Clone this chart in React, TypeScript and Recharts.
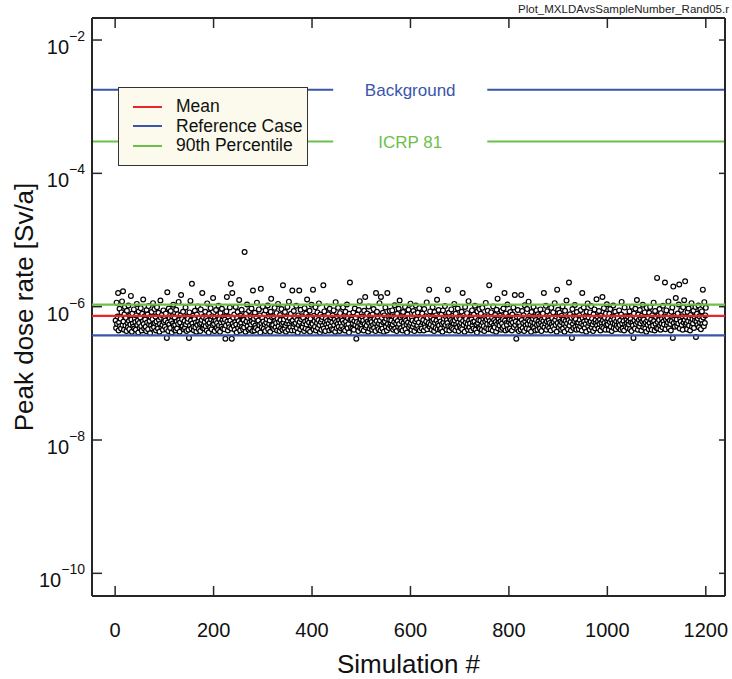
import { ScatterChart, Scatter, XAxis, YAxis, ReferenceLine, Legend } from 'recharts'

const FONT = '"Liberation Sans", Arial, Helvetica, sans-serif'
const FRAME = '#262626'
const RED = '#e8262a'
const BLUE = '#3a55aa'
const GREEN = '#6cc04a'

// plot frame edges (px)
const PLOT_TOP = 18
const PLOT_BOTTOM = 596
const PLOT_LEFT = 92
const PLOT_RIGHT = 725

const xDomain = [-47, 1239]
const xTicks = [0, 200, 400, 600, 800, 1000, 1200]
const yDomain = [4.57e-11, 2.14e-2]
const yTicks = [1e-10, 1e-8, 1e-6, 1e-4, 1e-2]

// peak dose rate of each simulation (sim # = index + 1), in units of 1e-8 Sv/a
const peakDoseE8 = [
  62, 48, 115, 55, 71, 160, 44, 58, 93, 51, 66, 47, 82, 120, 53, 170, 60, 45, 77, 99,
  52, 68, 43, 87, 57, 49, 104, 61, 46, 73, 54, 145, 64, 42, 79, 56, 50, 91, 47, 66,
  59, 45, 74, 110, 53, 62, 41, 85, 57, 48, 69, 95, 51, 44, 78, 60, 128, 55, 47, 72,
  64, 50, 43, 89, 58, 76, 46, 102, 54, 61, 40, 70, 52, 83, 47, 65, 113, 56, 49, 92,
  57, 71, 44, 60, 98, 51, 47, 81, 63, 42, 55, 124, 68, 49, 75, 53, 45, 88, 59, 66,
  50, 62, 79, 46, 34, 165, 58, 43, 94, 54, 67, 48, 86, 61, 41, 72, 56, 107, 52, 45,
  69, 53, 44, 90, 60, 47, 77, 55, 118, 63, 42, 58, 74, 150, 49, 65, 51, 84, 46, 57,
  61, 48, 97, 54, 43, 71, 59, 66, 45, 34, 82, 52, 122, 62, 47, 220, 56, 73, 50, 44,
  65, 87, 49, 58, 42, 76, 53, 101, 60, 46, 68, 55, 43, 91, 57, 63, 160, 48, 70, 52,
  47, 59, 84, 51, 66, 44, 112, 62, 54, 41, 78, 57, 49, 95, 64, 46, 72, 53, 135, 60,
  55, 43, 69, 61, 89, 48, 57, 74, 45, 103, 52, 65, 42, 80, 58, 50, 93, 63, 47, 71,
  58, 46, 64, 33, 52, 85, 140, 60, 44, 71, 55, 49, 97, 62, 220, 47, 33, 160, 56, 68,
  51, 76, 45, 59, 99, 54, 41, 67, 83, 48, 61, 126, 53, 44, 73, 57, 90, 50, 64, 46,
  63, 49, 660, 56, 42, 78, 60, 108, 51, 68, 45, 86, 58, 47, 72, 54, 94, 61, 43, 175,
  57, 66, 44, 81, 52, 48, 70, 115, 59, 45, 62, 91, 53, 74, 41, 185, 56, 49, 67, 100,
  60, 47, 77, 54, 43, 88, 58, 65, 50, 104, 46, 71, 55, 62, 42, 84, 131, 52, 69, 48,
  53, 72, 46, 96, 61, 49, 57, 80, 44, 66, 110, 51, 59, 43, 75, 63, 48, 92, 55, 45,
  210, 58, 64, 47, 83, 52, 42, 70, 56, 99, 61, 45, 119, 54, 67, 49, 78, 60, 44, 175,
  62, 50, 86, 55, 44, 69, 57, 103, 48, 63, 41, 74, 53, 175, 59, 46, 90, 65, 51, 72,
  49, 68, 56, 43, 95, 60, 47, 79, 54, 128, 62, 45, 71, 58, 87, 42, 66, 52, 107, 57,
  55, 180, 46, 73, 61, 50, 98, 44, 67, 57, 82, 48, 63, 112, 53, 41, 76, 59, 45, 64,
  70, 52, 210, 47, 85, 58, 43, 66, 54, 101, 61, 49, 77, 56, 44, 93, 62, 51, 69, 46,
  58, 74, 45, 88, 53, 64, 42, 117, 59, 48, 71, 55, 96, 50, 63, 43, 80, 57, 47, 66,
  51, 62, 97, 46, 57, 73, 44, 84, 60, 52, 108, 48, 67, 55, 41, 78, 230, 63, 49, 70,
  64, 47, 56, 82, 45, 61, 94, 53, 68, 33, 59, 76, 50, 43, 89, 57, 121, 48, 65, 54,
  46, 71, 58, 62, 44, 87, 55, 140, 49, 66, 52, 79, 60, 42, 101, 57, 47, 73, 63, 51,
  59, 45, 76, 53, 92, 48, 65, 57, 43, 160, 61, 84, 50, 70, 46, 56, 113, 62, 44, 140,
  53, 68, 47, 81, 58, 42, 74, 60, 97, 50, 66, 44, 160, 55, 72, 48, 63, 86, 52, 57,
  62, 49, 88, 54, 45, 71, 59, 105, 47, 66, 56, 43, 78, 61, 50, 93, 55, 124, 46, 69,
  48, 60, 73, 44, 83, 57, 51, 65, 99, 46, 62, 54, 41, 76, 58, 90, 49, 67, 53, 111,
  57, 45, 69, 62, 50, 86, 55, 43, 77, 60, 104, 48, 64, 52, 81, 46, 58, 95, 44, 71,
  66, 52, 47, 79, 58, 63, 44, 92, 55, 49, 72, 60, 116, 46, 68, 53, 57, 180, 50, 85,
  54, 70, 45, 61, 98, 51, 64, 43, 83, 57, 48, 74, 62, 127, 46, 56, 89, 52, 67, 45,
  60, 47, 76, 55, 42, 88, 58, 66, 49, 102, 53, 71, 45, 63, 57, 180, 51, 81, 44, 68,
  50, 63, 91, 48, 59, 73, 46, 56, 110, 62, 44, 78, 54, 67, 49, 94, 58, 43, 70, 52,
  65, 48, 57, 84, 46, 160, 61, 53, 74, 42, 99, 58, 66, 50, 80, 55, 45, 121, 62, 49,
  56, 71, 44, 64, 88, 52, 59, 47, 76, 60, 103, 45, 68, 54, 41, 85, 57, 63, 49, 92,
  47, 62, 78, 53, 45, 96, 58, 66, 51, 43, 72, 60, 114, 48, 64, 55, 87, 46, 69, 210,
  61, 54, 46, 82, 57, 68, 44, 101, 52, 63, 49, 75, 59, 42, 90, 55, 132, 47, 66, 58,
  52, 73, 60, 45, 87, 56, 48, 65, 94, 51, 160, 62, 44, 79, 57, 53, 108, 46, 70, 59,
  64, 47, 83, 55, 62, 44, 76, 58, 97, 49, 66, 150, 53, 60, 33, 71, 46, 89, 56, 43,
  58, 69, 51, 45, 150, 63, 86, 48, 57, 74, 43, 105, 60, 52, 67, 47, 92, 55, 64, 119,
  46, 61, 74, 54, 42, 83, 59, 50, 66, 99, 48, 57, 71, 44, 63, 88, 53, 45, 77, 60,
  55, 72, 47, 91, 58, 43, 64, 52, 79, 61, 160, 49, 68, 56, 103, 45, 60, 85, 51, 66,
  62, 48, 57, 75, 44, 96, 54, 67, 50, 82, 59, 46, 113, 63, 53, 71, 42, 180, 57, 90,
  49, 66, 81, 53, 60, 45, 73, 58, 101, 47, 64, 55, 42, 87, 61, 51, 124, 56, 70, 46,
  63, 230, 52, 77, 59, 44, 68, 34, 92, 55, 48, 71, 61, 106, 50, 65, 45, 83, 57, 53,
  58, 46, 74, 63, 51, 89, 56, 44, 160, 67, 53, 97, 60, 48, 72, 55, 42, 84, 62, 112,
  51, 69, 57, 45, 82, 60, 102, 49, 66, 54, 43, 77, 59, 91, 47, 63, 56, 129, 52, 71,
  60, 47, 86, 55, 64, 44, 73, 58, 50, 140, 62, 48, 95, 57, 68, 45, 79, 53, 109, 61,
  54, 66, 45, 78, 59, 92, 50, 63, 43, 71, 57, 104, 48, 65, 55, 84, 46, 60, 52, 74,
  67, 49, 58, 88, 53, 62, 45, 76, 118, 56, 47, 69, 61, 44, 97, 54, 72, 50, 63, 57,
  48, 71, 60, 54, 85, 46, 65, 58, 43, 100, 57, 52, 34, 79, 62, 47, 93, 55, 68, 126,
  59, 45, 76, 63, 51, 89, 56, 67, 44, 73, 60, 107, 49, 64, 55, 82, 47, 58, 42, 96,
  62, 53, 68, 46, 81, 57, 99, 50, 64, 45, 74, 58, 52, 115, 61, 44, 86, 55, 70, 48,
  270, 59, 47, 74, 63, 92, 52, 45, 80, 56, 66, 49, 103, 60, 54, 71, 230, 46, 64, 88,
  53, 69, 58, 120, 48, 76, 62, 55, 44, 84, 61, 97, 34, 200, 57, 67, 50, 73, 135, 59,
  64, 51, 79, 56, 108, 215, 47, 66, 60, 89, 53, 72, 45, 98, 58, 125, 63, 240, 54, 70,
  57, 46, 83, 61, 94, 52, 68, 44, 75, 59, 113, 50, 65, 56, 87, 48, 71, 62, 99, 35,
  60, 78, 53, 66, 104, 49, 72, 58, 91, 46, 63, 85, 55, 180, 69, 51, 117, 57, 74, 96,
]

// statistics / limits in Sv/a
const meanDose = 7.3e-7
const referenceDose = 3.7e-7
const percentile90Dose = 1.07e-6
const backgroundDose = 1.8e-3
const icrp81Dose = 3.0e-4

// gap in the limit lines where their labels sit (simulation # units)
const labelGap = [443, 756]

const legendItems = [
  { name: 'Mean', color: RED },
  { name: 'Reference Case', color: BLUE },
  { name: '90th Percentile', color: GREEN },
]

const points = peakDoseE8.map((v, i) => ({ sim: i + 1, dose: v * 1e-8 }))
const flatLine = (dose: number) => [
  { sim: xDomain[0], dose },
  { sim: xDomain[1], dose },
]

// x comes from the axis scale; the frame edges are fixed
function XTick({ x, payload }: any) {
  return (
    <g>
      <line x1={x} x2={x} y1={PLOT_BOTTOM} y2={PLOT_BOTTOM - 10} stroke={FRAME} strokeWidth={1.5} />
      <line x1={x} x2={x} y1={PLOT_TOP} y2={PLOT_TOP + 10} stroke={FRAME} strokeWidth={1.5} />
      <text x={x} y={PLOT_BOTTOM + 41} textAnchor="middle" fontSize={20} fontFamily={FONT} fill="#111">
        {payload.value}
      </text>
    </g>
  )
}

function YTick({ y, payload }: any) {
  const exp = Math.round(Math.log10(payload.value))
  return (
    <g>
      <line x1={PLOT_LEFT} x2={PLOT_LEFT + 10} y1={y} y2={y} stroke={FRAME} strokeWidth={1.5} />
      <line x1={PLOT_RIGHT} x2={PLOT_RIGHT - 6} y1={y} y2={y} stroke={FRAME} strokeWidth={1.5} />
      <text x={PLOT_LEFT - 7} y={y + 14} textAnchor="end" fontFamily={FONT} fill="#111">
        <tspan fontSize={20}>10</tspan>
        <tspan fontSize={14} dy={-13}>{'\u2212' + Math.abs(exp)}</tspan>
      </text>
    </g>
  )
}

function Dot({ cx, cy }: any) {
  return <circle cx={cx} cy={cy} r={2.4} fill="#fff" stroke="#000" strokeWidth={1.2} />
}

function NoDot() {
  return <g />
}

function LegendBox() {
  return (
    <div
      style={{
        width: 190,
        height: 79,
        background: '#fbfaec',
        border: '1.5px solid #333',
        boxSizing: 'border-box',
        paddingTop: 9,
        fontFamily: FONT,
        fontSize: 17.5,
        lineHeight: '19.5px',
        color: '#111',
      }}
    >
      {legendItems.map((it) => (
        <div key={it.name} style={{ display: 'flex', alignItems: 'center', height: 19.5 }}>
          <div style={{ width: 29, height: 2, background: it.color, marginLeft: 14, marginRight: 14 }} />
          <span>{it.name}</span>
        </div>
      ))}
    </div>
  )
}

export default function App() {
  return (
    <div style={{ position: 'absolute', left: 0, top: 0, width: 732, height: 679, background: '#fff', fontFamily: FONT }}>
      <ScatterChart width={732} height={679} margin={{ top: PLOT_TOP - 1, right: 732 - PLOT_RIGHT - 1, bottom: 0, left: 0 }}>
        <XAxis
          dataKey="sim"
          type="number"
          domain={xDomain}
          ticks={xTicks}
          interval={0}
          allowDataOverflow
          height={679 - PLOT_BOTTOM}
          tickLine={false}
          tick={<XTick />}
          axisLine={{ stroke: FRAME, strokeWidth: 2 }}
          label={{
            content: ({ viewBox }: any) => (
              <text x={viewBox.x + viewBox.width / 2} y={673} textAnchor="middle" fontSize={26} fontFamily={FONT} fill="#111">
                Simulation #
              </text>
            ),
          }}
        />
        <XAxis
          xAxisId="top"
          orientation="top"
          type="number"
          domain={xDomain}
          allowDataOverflow
          height={1}
          tick={false}
          tickLine={false}
          axisLine={{ stroke: FRAME, strokeWidth: 2 }}
          label={{
            content: () => (
              <text x={729} y={13} textAnchor="end" fontSize={11.5} fontFamily={FONT} fill="#222" textLength={211} lengthAdjust="spacingAndGlyphs">
                Plot_MXLDAvsSampleNumber_Rand05.r
              </text>
            ),
          }}
        />
        <YAxis
          dataKey="dose"
          type="number"
          scale="log"
          domain={yDomain}
          ticks={yTicks}
          interval={0}
          allowDataOverflow
          width={PLOT_LEFT}
          tickLine={false}
          tick={<YTick />}
          axisLine={{ stroke: FRAME, strokeWidth: 2 }}
          label={{
            content: ({ viewBox }: any) => {
              const cy = viewBox.y + viewBox.height / 2
              return (
                <text x={33} y={cy} transform={`rotate(-90 33 ${cy})`} textAnchor="middle" fontSize={26} fontFamily={FONT} fill="#111">
                  Peak dose rate [Sv/a]
                </text>
              )
            },
          }}
        />
        <YAxis
          yAxisId="right"
          orientation="right"
          type="number"
          scale="log"
          domain={yDomain}
          allowDataOverflow
          width={1}
          tick={false}
          tickLine={false}
          axisLine={{ stroke: FRAME, strokeWidth: 2 }}
        />

        <ReferenceLine segment={[{ x: xDomain[0], y: backgroundDose }, { x: labelGap[0], y: backgroundDose }]} stroke={BLUE} strokeWidth={2} />
        <ReferenceLine segment={[{ x: labelGap[1], y: backgroundDose }, { x: xDomain[1], y: backgroundDose }]} stroke={BLUE} strokeWidth={2} />
        <ReferenceLine
          segment={[{ x: labelGap[0], y: backgroundDose }, { x: labelGap[1], y: backgroundDose }]}
          stroke="none"
          label={{ value: 'Background', position: 'center', fill: BLUE, fontSize: 17, fontFamily: FONT }}
        />
        <ReferenceLine segment={[{ x: xDomain[0], y: icrp81Dose }, { x: labelGap[0], y: icrp81Dose }]} stroke={GREEN} strokeWidth={2} />
        <ReferenceLine segment={[{ x: labelGap[1], y: icrp81Dose }, { x: xDomain[1], y: icrp81Dose }]} stroke={GREEN} strokeWidth={2} />
        <ReferenceLine
          segment={[{ x: labelGap[0], y: icrp81Dose }, { x: labelGap[1], y: icrp81Dose }]}
          stroke="none"
          label={{ value: 'ICRP 81', position: 'center', fill: GREEN, fontSize: 17, fontFamily: FONT }}
        />

        <Scatter data={points} shape={<Dot />} isAnimationActive={false} legendType="none" />
        <Scatter data={flatLine(percentile90Dose)} line={{ stroke: GREEN, strokeWidth: 2.2 }} shape={<NoDot />} isAnimationActive={false} legendType="none" />
        <Scatter data={flatLine(meanDose)} line={{ stroke: RED, strokeWidth: 2.2 }} shape={<NoDot />} isAnimationActive={false} legendType="none" />
        <Scatter data={flatLine(referenceDose)} line={{ stroke: BLUE, strokeWidth: 2.2 }} shape={<NoDot />} isAnimationActive={false} legendType="none" />

        <Legend
          layout="vertical"
          verticalAlign="middle"
          align="center"
          content={<LegendBox />}
          wrapperStyle={{ left: 118, top: 87, width: 190, height: 79 }}
        />
      </ScatterChart>
    </div>
  )
}
